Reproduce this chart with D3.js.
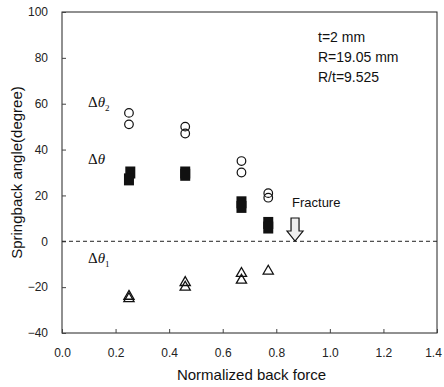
<!DOCTYPE html>
<html>
<head>
<meta charset="utf-8">
<script src="https://cdn.jsdelivr.net/npm/d3@7"></script>
<style>
  body { margin: 0; background: #fff; }
  svg { font-family: "Liberation Sans", Arial, sans-serif; }
</style>
</head>
<body>
<div id="chart"></div>
<script>
// values
const dTheta2 = [[0.25, 56], [0.25, 51], [0.46, 50], [0.46, 47], [0.67, 35], [0.67, 30], [0.77, 21], [0.77, 19]];
const dTheta = [[0.255, 30], [0.25, 27], [0.46, 30], [0.46, 29], [0.67, 17], [0.67, 15], [0.77, 8], [0.77, 6]];
const dTheta1 = [[0.25, -24], [0.25, -25], [0.46, -18], [0.46, -20], [0.67, -14], [0.67, -17], [0.77, -13]];
const xTicks = [0.0, 0.2, 0.4, 0.6, 0.8, 1.0, 1.2, 1.4];
const yTicks = [-40, -20, 0, 20, 40, 60, 80, 100];
const fractureX = 0.87;

const W = 444, H = 387;
const margin = { top: 12, right: 7, bottom: 54, left: 62 };

const svg = d3.select("#chart").append("svg")
  .attr("width", W)
  .attr("height", H);

const x = d3.scaleLinear().domain([0, 1.4]).range([margin.left, W - margin.right]);
const y = d3.scaleLinear().domain([-40, 100]).range([H - margin.bottom, margin.top]);

// frame
svg.append("rect")
  .attr("x", x(0)).attr("y", y(100))
  .attr("width", x(1.4) - x(0)).attr("height", y(-40) - y(100))
  .attr("fill", "none").attr("stroke", "#222").attr("stroke-width", 1);

// axes, ticks pointing inward
const xAxis = svg.append("g")
  .attr("transform", `translate(0,${y(-40)})`)
  .call(d3.axisBottom(x).tickValues(xTicks).tickFormat(d3.format(".1f")).tickSizeInner(-4).tickSizeOuter(0).tickPadding(15));
const yAxis = svg.append("g")
  .attr("transform", `translate(${x(0)},0)`)
  .call(d3.axisLeft(y).tickValues(yTicks).tickSizeInner(-4).tickSizeOuter(0).tickPadding(14));
[xAxis, yAxis].forEach(g => {
  g.select(".domain").remove();
  g.selectAll("text").attr("font-size", 12).attr("fill", "#222");
  g.selectAll("line").attr("stroke", "#444");
});
// keep the last x label inside the page
xAxis.selectAll("text").filter(d => d === 1.4).attr("dx", -4);

// zero line
svg.append("line")
  .attr("x1", x(0)).attr("x2", x(1.4))
  .attr("y1", y(0)).attr("y2", y(0))
  .attr("stroke", "#222").attr("stroke-dasharray", "4,3");

// circles
svg.append("g").selectAll("circle")
  .data(dTheta2).join("circle")
  .attr("cx", d => x(d[0])).attr("cy", d => y(d[1]))
  .attr("r", 4.3)
  .attr("fill", "none").attr("stroke", "#111").attr("stroke-width", 1.2);

// filled squares
svg.append("g").selectAll("rect")
  .data(dTheta).join("rect")
  .attr("x", d => x(d[0]) - 5).attr("y", d => y(d[1]) - 6)
  .attr("width", 10).attr("height", 12)
  .attr("fill", "#111");

// triangles
const tri = d3.symbol().type(d3.symbolTriangle).size(45);
svg.append("g").selectAll("path")
  .data(dTheta1).join("path")
  .attr("d", tri)
  .attr("transform", d => `translate(${x(d[0])},${y(d[1])})`)
  .attr("fill", "none").attr("stroke", "#111").attr("stroke-width", 1.3);

// series labels
function seriesLabel(px, py, sub) {
  const t = svg.append("text").attr("x", px).attr("y", py)
    .attr("font-family", "'Liberation Serif', 'DejaVu Serif', serif")
    .attr("font-size", 15).attr("fill", "#111");
  t.append("tspan").text("Δ");
  t.append("tspan").attr("font-style", "italic").text("θ");
  if (sub) t.append("tspan").attr("font-size", 9).attr("dy", 4).text(sub);
}
seriesLabel(88, 107, "2");
seriesLabel(88, 164, "");
seriesLabel(88, 263, "1");

// parameters box text
const params = ["t=2 mm", "R=19.05 mm", "R/t=9.525"];
svg.append("g").selectAll("text")
  .data(params).join("text")
  .attr("x", 318).attr("y", (d, i) => 42 + i * 20)
  .attr("font-size", 14).attr("fill", "#111")
  .text(d => d);

// fracture arrow
const fx = x(fractureX);
svg.append("text").attr("x", fx - 3).attr("y", 207)
  .attr("font-size", 13).attr("fill", "#111").text("Fracture");
svg.append("path")
  .attr("d", `M${fx - 4},${218} L${fx + 4},${218} L${fx + 4},${231} L${fx + 8},${231} L${fx},${241} L${fx - 8},${231} L${fx - 4},${231} Z`)
  .attr("fill", "#eee").attr("stroke", "#111").attr("stroke-width", 1.2);

// axis titles
svg.append("text")
  .attr("transform", `translate(22,${(y(100) + y(-40)) / 2}) rotate(-90)`)
  .attr("text-anchor", "middle").attr("font-size", 15).attr("fill", "#111")
  .text("Springback angle(degree)");
svg.append("text")
  .attr("x", (x(0) + x(1.4)) / 2 + 2).attr("y", 380)
  .attr("text-anchor", "middle").attr("font-size", 15).attr("fill", "#111")
  .text("Normalized back force");
</script>
</body>
</html>
